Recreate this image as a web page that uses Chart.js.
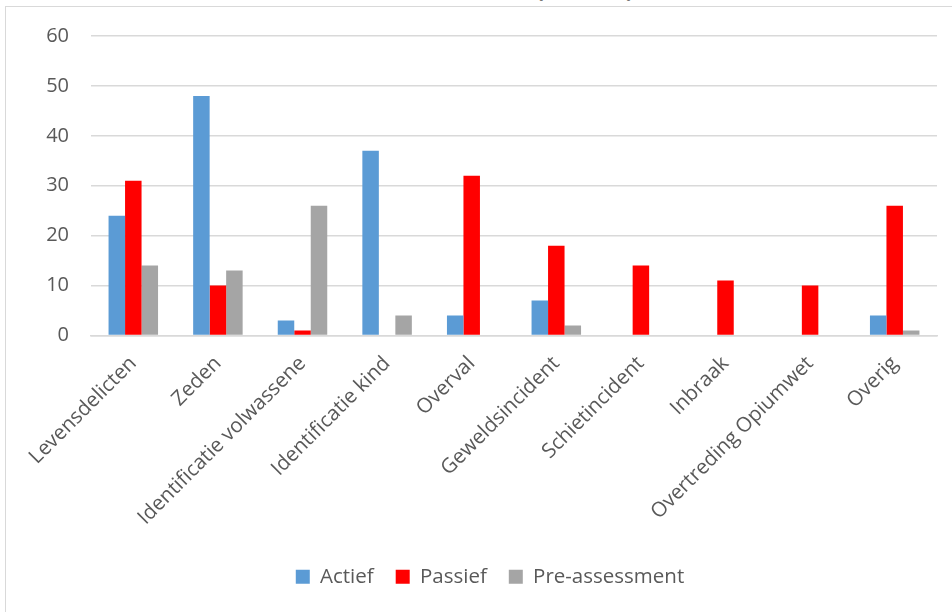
<!DOCTYPE html>
<html>
<head>
<meta charset="utf-8">
<script src="https://cdn.jsdelivr.net/npm/chart.js@4"></script>
<style>
  html, body { margin: 0; padding: 0; background: #fff; overflow: hidden; }
  #wrap { position: relative; width: 952px; height: 612px; overflow: hidden; }
  #frame { position: absolute; left: 5px; top: 6px; width: 960px; height: 620px; border: 1px solid #d9d9d9; box-sizing: border-box; }
  #title { position: absolute; right: 312px; top: -28px; line-height: 30px; text-align: right; font: bold 23px "Open Sans", sans-serif; color: #000; white-space: nowrap; letter-spacing: 6px; }
  canvas { position: absolute; left: 0; top: 0; }
</style>
</head>
<body>
<div id="wrap">
  <div id="frame"></div>
  <div id="title">(2016)</div>
  <canvas id="c" width="952" height="612"></canvas>
</div>
<script>
const categories = ["Levensdelicten", "Zeden", "Identificatie volwassene", "Identificatie kind", "Overval", "Geweldsincident", "Schietincident", "Inbraak", "Overtreding Opiumwet", "Overig"];
const actief = [24, 48, 3, 37, 4, 7, 0, 0, 0, 4];
const passief = [31, 10, 1, 0, 32, 18, 14, 11, 10, 26];
const preAssessment = [14, 13, 26, 4, 0, 2, 0, 0, 0, 1];
const yTicks = [0, 10, 20, 30, 40, 50, 60];

const textColor = "#595959";
const fontFamily = "'Open Sans', sans-serif";

new Chart(document.getElementById("c"), {
  type: "bar",
  data: {
    labels: categories,
    datasets: [
      { label: "Actief", data: actief, backgroundColor: "#5B9BD5" },
      { label: "Passief", data: passief, backgroundColor: "#FF0000" },
      { label: "Pre-assessment", data: preAssessment, backgroundColor: "#A5A5A5" }
    ]
  },
  options: {
    responsive: false,
    animation: false,
    devicePixelRatio: 1,
    layout: { padding: { left: 43, right: 15, top: 36, bottom: 15 } },
    datasets: { bar: { categoryPercentage: 0.585, barPercentage: 1.0 } },
    plugins: {
      legend: {
        position: "bottom",
        labels: {
          boxWidth: 14, boxHeight: 14, padding: 22,
          color: textColor,
          font: { family: fontFamily, size: 20.5 }
        }
      },
      tooltip: { enabled: false }
    },
    scales: {
      x: {
        grid: { display: false, drawTicks: false },
        border: { display: true, color: "#d9d9d9", width: 1.5 },
        ticks: {
          color: textColor, font: { family: fontFamily, size: 20.5 },
          maxRotation: 45, minRotation: 45, padding: 16, autoSkip: false
        },
        afterFit: (s) => { s.height = 209; }
      },
      y: {
        min: 0, max: 60,
        afterBuildTicks: (s) => { s.ticks = yTicks.map(v => ({ value: v })); },
        grid: { color: "#d9d9d9", lineWidth: 1.5, drawTicks: false },
        border: { display: false },
        ticks: {
          color: textColor, font: { family: fontFamily, size: 20 },
          padding: 22
        },
        afterFit: (s) => { s.width = 48; }
      }
    }
  }
});
</script>
</body>
</html>
